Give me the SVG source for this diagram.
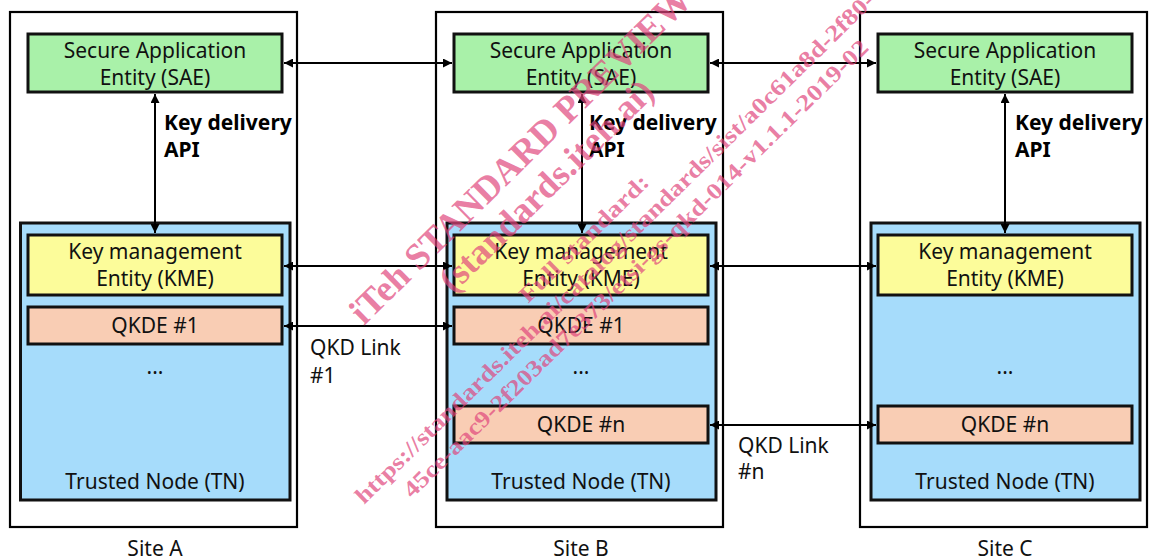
<svg xmlns="http://www.w3.org/2000/svg" width="1149" height="560" viewBox="0 0 1149 560">
<defs>
<style>
.site{fill:#fff;stroke:#000;stroke-width:2.2}
.tn{fill:#a6dcfb;stroke:#111;stroke-width:3}
.sae{fill:#a9f1a9;stroke:#111;stroke-width:3}
.kme{fill:#fcfc9a;stroke:#111;stroke-width:3}
.qkde{fill:#f9cdb4;stroke:#111;stroke-width:3}
.t{font-family:"Noto Sans","Open Sans",sans-serif;font-size:21px;fill:#111;text-anchor:middle}
.l{font-family:"Noto Sans","Open Sans",sans-serif;font-size:21px;fill:#111}
.b{font-family:"Noto Sans","Open Sans",sans-serif;font-size:21px;font-weight:bold;fill:#000}
.c{stroke:#000;stroke-width:2;fill:none;marker-start:url(#ah);marker-end:url(#ah)}
.wm{font-family:"Liberation Serif",serif;font-weight:bold;fill:#e0457c;fill-opacity:0.7}
</style>
<marker id="ah" viewBox="0 0 10 10" refX="10" refY="5" markerWidth="9" markerHeight="9" markerUnits="userSpaceOnUse" orient="auto-start-reverse">
<path d="M0,0 L10,5 L0,10 z" fill="#000"/>
</marker>
</defs>

<g id="siteA">
<rect class="site" x="10" y="12" width="287" height="515"/>
<rect class="tn" x="20.5" y="223" width="269.5" height="277"/>
<text class="t" x="155" y="489">Trusted Node (TN)</text>
<text class="t" x="155" y="556">Site A</text>
</g>
<g id="siteB">
<rect class="site" x="436" y="12" width="287" height="515"/>
<rect class="tn" x="447" y="223" width="269" height="277"/>
<text class="t" x="581" y="489">Trusted Node (TN)</text>
<text class="t" x="581" y="556">Site B</text>
</g>
<g id="siteC">
<rect class="site" x="860" y="12" width="287" height="515"/>
<rect class="tn" x="871" y="223" width="269" height="277"/>
<text class="t" x="1005" y="489">Trusted Node (TN)</text>
<text class="t" x="1005" y="556">Site C</text>
</g>

<g id="saeA"><rect class="sae" x="28" y="34" width="254" height="58"/><text class="t" x="155" y="58">Secure Application</text><text class="t" x="155" y="85">Entity (SAE)</text></g>
<g id="saeB"><rect class="sae" x="454" y="34" width="254" height="58"/><text class="t" x="581" y="58">Secure Application</text><text class="t" x="581" y="85">Entity (SAE)</text></g>
<g id="saeC"><rect class="sae" x="878" y="34" width="254" height="58"/><text class="t" x="1005" y="58">Secure Application</text><text class="t" x="1005" y="85">Entity (SAE)</text></g>

<g id="kmeA"><rect class="kme" x="28" y="235" width="254" height="60"/><text class="t" x="155" y="259">Key management</text><text class="t" x="155" y="286">Entity (KME)</text></g>
<g id="kmeB"><rect class="kme" x="454" y="235" width="254" height="60"/><text class="t" x="581" y="259">Key management</text><text class="t" x="581" y="286">Entity (KME)</text></g>
<g id="kmeC"><rect class="kme" x="878" y="235" width="254" height="60"/><text class="t" x="1005" y="259">Key management</text><text class="t" x="1005" y="286">Entity (KME)</text></g>

<g id="qkdeA1"><rect class="qkde" x="28" y="307" width="254" height="37"/><text class="t" x="155" y="333">QKDE #1</text></g>
<g id="qkdeB1"><rect class="qkde" x="454" y="307" width="254" height="37"/><text class="t" x="581" y="333">QKDE #1</text></g>
<g id="qkdeBn"><rect class="qkde" x="454" y="406" width="254" height="37"/><text class="t" x="581" y="432">QKDE #n</text></g>
<g id="qkdeCn"><rect class="qkde" x="878" y="406" width="254" height="37"/><text class="t" x="1005" y="432">QKDE #n</text></g>

<g id="dots">
<text class="t" x="155" y="374">...</text>
<text class="t" x="581" y="374">...</text>
<text class="t" x="1005" y="374">...</text>
</g>

<g id="connectors">
<line class="c" x1="155" y1="94" x2="155" y2="233"/>
<line class="c" x1="582" y1="94" x2="582" y2="233"/>
<line class="c" x1="1005" y1="94" x2="1005" y2="233"/>
<line class="c" x1="284" y1="63" x2="452" y2="63"/>
<line class="c" x1="710" y1="63" x2="876" y2="63"/>
<line class="c" x1="284" y1="266" x2="452" y2="266"/>
<line class="c" x1="710" y1="266" x2="876" y2="266"/>
<line class="c" x1="284" y1="326" x2="452" y2="326"/>
<line class="c" x1="710" y1="425" x2="876" y2="425"/>
</g>

<g id="labels">
<text class="b" x="164" y="130">Key delivery</text>
<text class="b" x="164" y="157">API</text>
<text class="b" x="589" y="130">Key delivery</text>
<text class="b" x="589" y="157">API</text>
<text class="b" x="1015" y="130">Key delivery</text>
<text class="b" x="1015" y="157">API</text>
<text class="l" x="310" y="355">QKD Link</text>
<text class="l" x="310" y="383">#1</text>
<text class="l" x="738" y="453">QKD Link</text>
<text class="l" x="738" y="479">#n</text>
</g>

<g id="watermark">
<text class="wm" font-size="37" transform="translate(364,326) rotate(-44.5)" textLength="462" lengthAdjust="spacingAndGlyphs">iTeh STANDARD PREVIEW</text>
<text class="wm" font-size="36" transform="translate(453,294) rotate(-44.5)" textLength="285" lengthAdjust="spacingAndGlyphs">(standards.iteh.ai)</text>
<text class="wm" font-size="23" transform="translate(528,304) rotate(-44.5)" textLength="172" lengthAdjust="spacingAndGlyphs">Full standard:</text>
<text class="wm" font-size="23" transform="translate(364,505) rotate(-44.5)" textLength="718" lengthAdjust="spacingAndGlyphs">https://standards.iteh.ai/catalog/standards/sist/a0c61a8d-2f80-</text>
<text class="wm" font-size="23" transform="translate(412,499) rotate(-44.5)" textLength="642" lengthAdjust="spacingAndGlyphs">45ce-aac9-2f203ad7e373/etsi-gs-qkd-014-v1.1.1-2019-02</text>
</g>
</svg>
